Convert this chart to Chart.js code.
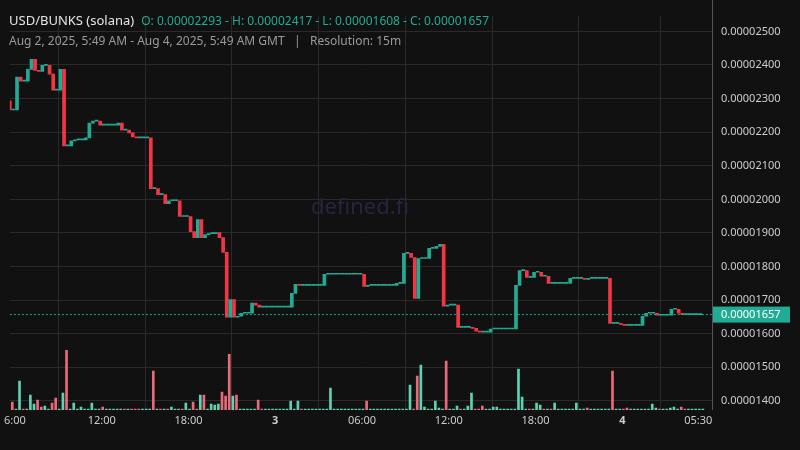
<!DOCTYPE html>
<html><head><meta charset="utf-8">
<script src="https://cdn.jsdelivr.net/npm/chart.js@4"></script>
<style>html,body{margin:0;background:#111111;}#w{position:relative;width:800px;height:450px;}</style>
</head><body><div id="w"><canvas id="c" width="800" height="450"></canvas></div>
<script>
// prices in units of 1e-6
const firstOpen = 22.93;
const closes = [
22.66,22.66,23.64,23.52,23.52,23.87,24.17,23.84,23.81,23.99,
23.99,23.73,23.25,23.25,23.87,21.59,21.59,21.74,21.77,21.77,
21.77,21.83,22.27,22.33,22.33,22.21,22.21,22.21,22.21,22.21,
22.27,22.06,22.06,21.98,21.86,21.83,21.83,21.83,21.83,20.32,
20.32,20.14,20.14,19.87,19.96,19.96,19.96,19.49,19.49,19.49,
19.04,18.86,19.40,18.86,18.95,18.98,18.98,19.01,18.86,18.42,
16.49,17.02,16.49,16.52,16.61,16.61,16.61,16.91,16.85,16.79,
16.79,16.79,16.79,16.79,16.79,16.79,16.79,16.79,17.20,17.47,
17.44,17.44,17.44,17.44,17.44,17.44,17.44,17.77,17.77,17.77,
17.77,17.77,17.77,17.77,17.77,17.77,17.77,17.77,17.41,17.44,
17.44,17.44,17.44,17.44,17.44,17.44,17.44,17.50,17.50,18.39,
18.39,18.27,17.05,18.24,18.24,18.24,18.54,18.54,18.60,18.66,
16.82,16.85,16.85,16.85,16.19,16.19,16.19,16.19,16.16,16.08,
16.05,16.05,16.05,16.14,16.14,16.14,16.14,16.14,16.14,16.14,
17.44,17.88,17.88,17.68,17.68,17.83,17.83,17.71,17.71,17.50,
17.50,17.50,17.50,17.50,17.50,17.65,17.65,17.65,17.65,17.62,
17.65,17.65,17.65,17.65,17.65,17.65,16.31,16.31,16.31,16.28,
16.25,16.25,16.25,16.25,16.25,16.52,16.61,16.61,16.61,16.55,
16.55,16.55,16.55,16.73,16.73,16.61,16.57,16.57,16.57,16.57,
16.57,16.57];
const volumes = [
8,1,29,1,1,15,6,10,3,4,1,7,12,1,17,60,1,7,1,3,
1,1,7,1,1,3,1,1,1,1,1,1,1,1,1,1,1,1,1,39,
1,1,1,1,3,1,1,1,7,1,8,1,15,15,1,6,5,6,18,14,
56,14,15,1,1,1,1,1,10,1,1,1,1,1,1,1,1,9,1,9,
1,1,1,1,1,1,1,1,22,1,1,1,1,1,1,1,1,1,9,1,
1,1,1,1,1,1,1,1,1,1,25,1,34,45,3,1,1,9,2,1,
49,1,1,4,1,1,4,17,1,1,4,1,1,3,3,1,1,1,1,1,
41,13,1,1,1,7,5,1,1,1,7,1,1,1,1,1,7,1,1,2,
1,1,1,1,1,1,39,1,1,1,2,1,1,1,1,1,1,6,2,1,
1,1,2,3,1,3,1,1,1,1,1,1];
const tickIdx = [1,25,49,73,97,121,145,169,190];
const tickText = ["6:00","12:00","18:00","3","06:00","12:00","18:00","4","05:30"];
const priceTicks = [14,15,16,17,18,19,20,21,22,23,24,25];

const GREEN='#22ab94', RED='#f23645';
const opens = closes.map((c,i)=> i===0 ? firstOpen : closes[i-1]);
const candleData = closes.map((c,i)=>({x:i,y:[opens[i],c]}));
const candleColors = closes.map((c,i)=> c>=opens[i]?GREEN:RED);
const volData = volumes.map((v,i)=>({x:i,y:v}));
const volColors = closes.map((c,i)=> c>=opens[i]?'#5ed1b2':'#ea6a7c');
const last = closes[closes.length-1];

const overlay = {
  id:'overlay',
  afterDraw(ch){
    const ctx=ch.ctx, y=ch.scales.y, a=ch.chartArea;
    const py=y.getPixelForValue(last);
    ctx.save();
    ctx.strokeStyle=GREEN; ctx.setLineDash([2,2]); ctx.lineWidth=1;
    ctx.beginPath(); ctx.moveTo(a.left,py); ctx.lineTo(a.right,py); ctx.stroke();
    ctx.setLineDash([]);
    ctx.fillStyle=GREEN; ctx.fillRect(a.right,py-8,78,16);
    ctx.fillStyle='#ffffff'; ctx.font='11px "Noto Sans"'; ctx.textBaseline='middle';
    ctx.fillText('0.0000'+(last*100).toFixed(0).padStart(4,'0'),a.right+9,py+0.5);
    ctx.strokeStyle='#555'; ctx.beginPath(); ctx.moveTo(a.right+0.5,0); ctx.lineTo(a.right+0.5,a.bottom); ctx.stroke();
    ctx.restore();
  },
  beforeDatasetsDraw(ch){
    const ctx=ch.ctx;
    ctx.save();
    ctx.fillStyle='#29253f'; ctx.font='22px "Noto Sans"'; ctx.textAlign='center';
    ctx.fillText('defined.fi',360,214);
    ctx.textAlign='left'; ctx.textBaseline='alphabetic';
    ctx.font='13px "Noto Sans"'; ctx.fillStyle='#e6e6e6';
    ctx.fillText('USD/BUNKS (solana)',9,25);
    const w=ctx.measureText('USD/BUNKS (solana)').width;
    ctx.fillStyle='#22ab94'; ctx.font='12px "Noto Sans"';
    ctx.fillText('O: 0.00002293 - H: 0.00002417 - L: 0.00001608 - C: 0.00001657',9+w+7,25);
    ctx.fillStyle='#9a9a9a'; ctx.font='12px "Noto Sans"';
    ctx.fillText('Aug 2, 2025, 5:49 AM - Aug 4, 2025, 5:49 AM GMT   |   Resolution: 15m',9,45);
    ctx.restore();
  }
};

new Chart(document.getElementById('c'),{
  data:{datasets:[
    {type:'bar',data:volData,yAxisID:'yv',backgroundColor:volColors,barThickness:2,order:2},
    {type:'bar',data:candleData,yAxisID:'y',backgroundColor:candleColors,barThickness:3,minBarLength:1,order:1}
  ]},
  options:{
    responsive:false,animation:false,
    layout:{padding:{top:14,left:0,right:0,bottom:20}},
    plugins:{legend:{display:false},tooltip:{enabled:false}},
    scales:{
      x:{type:'linear',min:-0.4,max:193.8,offset:false,
        afterBuildTicks(s){s.ticks=tickIdx.map(v=>({value:v}));},
        afterFit(s){s.height=20;},
        ticks:{autoSkip:false,maxRotation:0,color:'#cccccc',padding:4,
          font:(c)=>({family:'Noto Sans',size:11,weight:(tickText[c.index]==='3'||tickText[c.index]==='4')?'bold':'normal'}),
          callback:(v,i)=>tickText[i]},
        grid:{color:'#2a2a2a',drawTicks:false},border:{display:false}},
      y:{position:'right',min:13.73,max:25.47,
        afterBuildTicks(s){s.ticks=priceTicks.map(v=>({value:v}));},
        afterFit(s){s.width=88;},
        ticks:{color:'#cccccc',padding:9,font:{family:'Noto Sans',size:11},
          callback:v=>'0.0000'+(v*100).toFixed(0).padStart(4,'0')},
        grid:{color:'#2a2a2a',drawTicks:false},border:{display:false}},
      yv:{display:false,min:0,max:396}
    }
  },
  plugins:[overlay]
});
</script></body></html>
